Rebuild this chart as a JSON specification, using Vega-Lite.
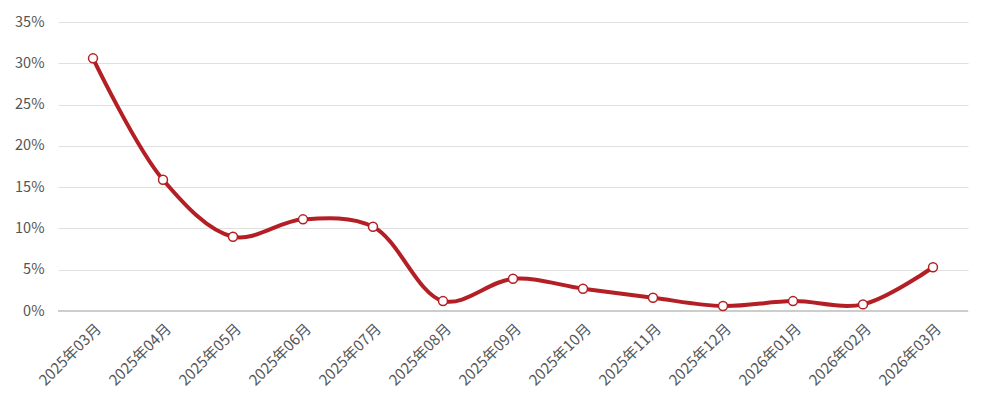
{
  "$schema": "https://vega.github.io/schema/vega-lite/v6.json",
  "autosize": "none",
  "width": 910,
  "height": 289,
  "padding": {"left": 58, "top": 22, "right": 23, "bottom": 99},
  "background": "white",
  "config": {"view": {"stroke": null}, "font": "Noto Sans CJK SC"},
  "data": {"values": [
    {"month": "2025年03月", "value": 0.306},
    {"month": "2025年04月", "value": 0.159},
    {"month": "2025年05月", "value": 0.090},
    {"month": "2025年06月", "value": 0.111},
    {"month": "2025年07月", "value": 0.102},
    {"month": "2025年08月", "value": 0.012},
    {"month": "2025年09月", "value": 0.039},
    {"month": "2025年10月", "value": 0.027},
    {"month": "2025年11月", "value": 0.016},
    {"month": "2025年12月", "value": 0.006},
    {"month": "2026年01月", "value": 0.012},
    {"month": "2026年02月", "value": 0.008},
    {"month": "2026年03月", "value": 0.053}
  ]},
  "encoding": {
    "x": {"field": "month", "type": "ordinal", "sort": null,
      "scale": {"type": "point", "padding": 0.5},
      "axis": {"title": null, "labelAngle": -45, "labelFontSize": 15, "labelColor": "#555555", "ticks": false, "domain": false, "labelPadding": 10, "grid": false}},
    "y": {"field": "value", "type": "quantitative",
      "scale": {"domain": [0, 0.35], "nice": false},
      "axis": {"title": null, "format": ".0%", "values": [0, 0.05, 0.1, 0.15, 0.2, 0.25, 0.3, 0.35], "labelFontSize": 14.5, "labelColor": "#555555", "ticks": false, "domain": false, "labelPadding": 14, "gridColor": "#e0e0e0", "gridWidth": 1}}
  },
  "layer": [
    {"mark": {"type": "rule", "color": "#cccccc", "strokeWidth": 1.5}, "encoding": {"y": {"datum": 0}, "x": {}}},
    {"mark": {"type": "line", "color": "#b31f24", "strokeWidth": 4, "interpolate": "catmull-rom"}},
    {"mark": {"type": "point", "filled": true, "fill": "white", "stroke": "#b31f24", "strokeWidth": 1.5, "size": 80, "opacity": 1}}
  ]
}
